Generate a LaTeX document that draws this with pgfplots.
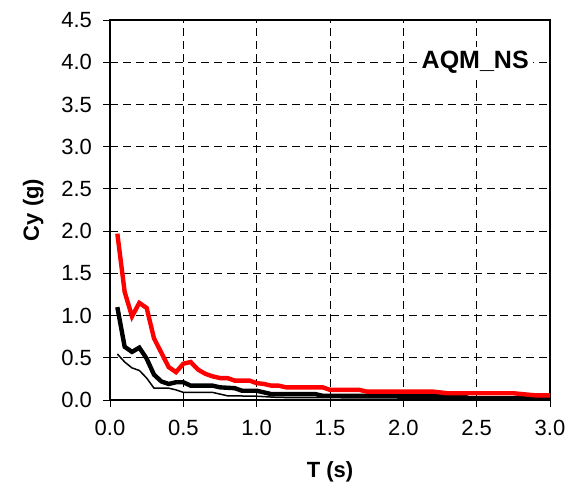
\documentclass[border=0pt]{standalone}
\usepackage{pgfplots}
\pgfplotsset{compat=1.18}
\usepackage{fontspec}
\setmainfont{Liberation Sans}
\begin{document}
\begin{tikzpicture}
\begin{axis}[
  scale only axis,
  width=220pt, height=190pt,
  xmin=0, xmax=3, ymin=0, ymax=4.5,
  xtick={0,0.5,...,3}, ytick={0,0.5,...,4.5},
  tick align=outside, tick pos=left,
  major tick length=3.5pt,
  tick style={black, line width=0.5pt},
  axis line style={black, line width=0.6pt},
  grid=major,
  major grid style={black, line width=0.4pt, dash pattern=on 4pt off 2.5pt},
  /pgf/number format/.cd, fixed, fixed zerofill, precision=1, assume math mode=true,
  /pgfplots/.cd,
  ticklabel style={font=\fontsize{11}{13}\selectfont},
  xticklabel style={yshift=-3pt},
  yticklabel style={xshift=-2pt},
  xlabel={\textbf{T (s)}},
  ylabel={\textbf{Cy (g)}},
  label style={font=\fontsize{11}{13}\selectfont},
  xlabel style={yshift=-6pt},
  ylabel style={yshift=2pt},
  clip=false,
]
\addplot[black, line width=0.75pt] coordinates {
(0.05,0.545) (0.10,0.45) (0.15,0.38) (0.20,0.35) (0.25,0.26) (0.30,0.14) (0.40,0.14)
(0.45,0.12) (0.50,0.09) (0.70,0.09) (0.80,0.05) (1.00,0.045) (1.15,0.03) (2.45,0.02) (3.00,0.01)
};
\addplot[black, line width=2.2pt] coordinates {
(0.05,1.10) (0.10,0.63) (0.15,0.57) (0.20,0.62) (0.25,0.49) (0.30,0.30) (0.35,0.22)
(0.40,0.19) (0.45,0.21) (0.50,0.21) (0.55,0.17) (0.70,0.17) (0.75,0.15) (0.85,0.14)
(0.90,0.11) (1.00,0.11) (1.05,0.09) (1.10,0.07) (1.40,0.07) (1.45,0.05) (2.40,0.05)
(2.45,0.02) (3.00,0.02)
};
\addplot[red, line width=2.2pt] coordinates {
(0.05,1.97) (0.10,1.28) (0.15,0.99) (0.20,1.15) (0.25,1.09) (0.30,0.73) (0.35,0.56)
(0.40,0.39) (0.45,0.33) (0.50,0.43) (0.55,0.45) (0.60,0.36) (0.65,0.31) (0.70,0.28)
(0.75,0.26) (0.80,0.26) (0.85,0.23) (0.95,0.23) (1.00,0.20) (1.05,0.19) (1.10,0.17)
(1.15,0.17) (1.20,0.15) (1.45,0.15) (1.50,0.12) (1.70,0.12) (1.75,0.10) (2.20,0.10)
(2.30,0.08) (2.75,0.08) (2.90,0.055) (3.00,0.055)
};
\node[fill=white, inner sep=2pt, font=\fontsize{12.5}{14}\selectfont\bfseries] at (axis cs:2.49,4.0) {AQM\_NS};
\end{axis}
\pgfresetboundingbox
\path (current axis.south west) ++(-55pt,-46pt) coordinate (bl);
\path (current axis.north east) ++(15pt,10pt) coordinate (tr);
\path[use as bounding box] (bl) rectangle (tr);
\end{tikzpicture}
\end{document}
